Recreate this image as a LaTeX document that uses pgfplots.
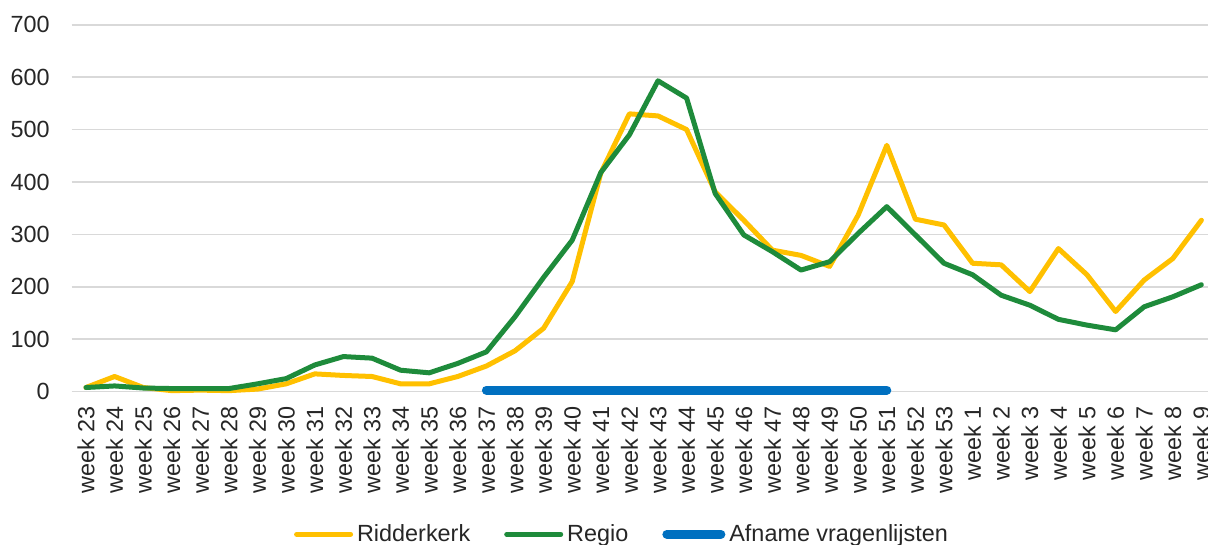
\documentclass[border=0pt]{standalone}
\usepackage{fontspec}
\setmainfont{Liberation Sans}
\usepackage{pgfplots}
\pgfplotsset{compat=1.18}

\definecolor{geel}{RGB}{255,192,0}
\definecolor{groen}{RGB}{30,139,59}
\definecolor{blauw}{RGB}{0,112,192}
\definecolor{raster}{RGB}{217,217,217}
\definecolor{tekst}{RGB}{38,38,38}

\begin{document}
\begin{tikzpicture}
\begin{axis}[
    at={(0,0)}, anchor=south west,
    scale only axis,
    width=572pt, height=183.5pt,
    xmin=-0.5, xmax=39.5,
    ymin=0, ymax=700,
    xtick={0,...,39},
    xticklabels={week 23,week 24,week 25,week 26,week 27,week 28,week 29,week 30,week 31,week 32,week 33,week 34,week 35,week 36,week 37,week 38,week 39,week 40,week 41,week 42,week 43,week 44,week 45,week 46,week 47,week 48,week 49,week 50,week 51,week 52,week 53,week 1,week 2,week 3,week 4,week 5,week 6,week 7,week 8,week 9},
    ytick={0,100,...,700},
    ymajorgrids,
    grid style={raster, line width=0.8pt},
    axis line style={draw=none},
    major tick length=0pt,
    tick label style={font=\fontsize{11.7}{14}\selectfont, text=tekst},
    /pgf/number format/assume math mode=true,
    yticklabel style={anchor=east, inner sep=0pt},
    yticklabel shift=10.8pt,
    xticklabel style={rotate=90, anchor=east, inner sep=0pt},
    xticklabel shift=7.3pt,
    clip=false,
    legend columns=3,
    legend style={draw=none, fill=none, at={(0.4819,-0.3886)}, anchor=center,
        font=\fontsize{11.7}{14}\selectfont, text=tekst,
        /tikz/every even column/.append style={column sep=15pt}},
    legend image code/.code={\draw[#1] (0pt,0pt) -- (27pt,0pt);},
    legend cell align=left,
]
\addplot[geel, line width=2.5pt, line join=round, line cap=round] coordinates {
 (0,8) (1,29) (2,8) (3,2) (4,3) (5,2) (6,5) (7,15) (8,34) (9,31)
 (10,29) (11,15) (12,15) (13,29) (14,49) (15,78) (16,121) (17,210) (18,417) (19,530)
 (20,526) (21,500) (22,381) (23,327) (24,270) (25,260) (26,239) (27,337) (28,470) (29,329)
 (30,318) (31,245) (32,242) (33,191) (34,273) (35,223) (36,153) (37,213) (38,254) (39,327)
};
\addlegendentry{Ridderkerk}
\addplot[groen, line width=2.5pt, line join=round, line cap=round] coordinates {
 (0,8) (1,11) (2,7) (3,6) (4,6) (5,6) (6,15) (7,25) (8,51) (9,67)
 (10,64) (11,41) (12,36) (13,54) (14,76) (15,143) (16,218) (17,289) (18,418) (19,490)
 (20,593) (21,560) (22,378) (23,299) (24,267) (25,232) (26,248) (27,302) (28,353) (29,299)
 (30,245) (31,223) (32,184) (33,165) (34,138) (35,127) (36,118) (37,162) (38,181) (39,204)
};
\addlegendentry{Regio}
\addplot[blauw, line width=4.5pt, line cap=round] coordinates {
 (14,3) (28,3)
};
\addlegendentry{Afname vragenlijsten}
\end{axis}
\pgfresetboundingbox
\path[use as bounding box] (-35.85pt,-76.65pt) rectangle (568.15pt,195.85pt);
\end{tikzpicture}
\end{document}
